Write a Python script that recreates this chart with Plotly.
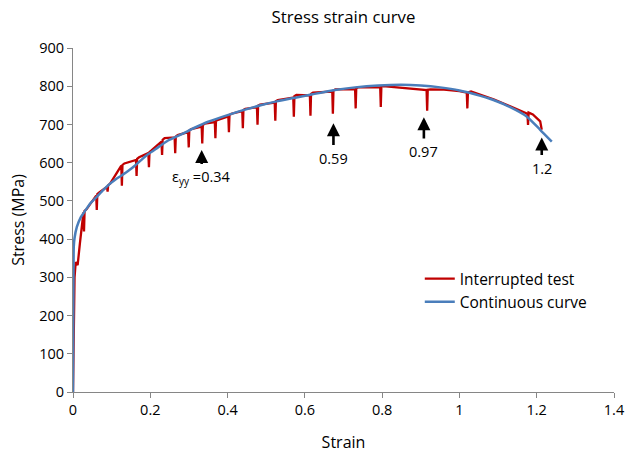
import plotly.graph_objects as go

# Continuous curve (blue)
cont_strain = [0.0, 0.001, 0.002, 0.004, 0.010, 0.020, 0.030, 0.045, 0.056, 0.075, 0.090, 0.110,
               0.125, 0.145, 0.160, 0.180, 0.194, 0.220, 0.246, 0.280, 0.316, 0.350, 0.402,
               0.450, 0.488, 0.530, 0.575, 0.620, 0.678, 0.730, 0.790, 0.850, 0.900, 0.950,
               1.000, 1.040, 1.088, 1.130, 1.174, 1.209, 1.239]
cont_stress = [0, 250, 380, 403, 432, 457, 472, 494, 505, 525, 540, 556,
               566, 580, 592, 610, 622, 640, 658, 674, 692, 707, 725,
               740, 751, 761, 770, 779, 790, 797, 802, 804, 802, 797,
               789, 779, 764, 746, 721, 686, 655]

# Interrupted test (red), including unloading dips
int_strain = [0.0, 0.002, 0.004, 0.007, 0.012, 0.018, 0.024,
              0.027, 0.0285, 0.030, 0.035,
              0.060, 0.0615, 0.063, 0.068,
              0.088, 0.0895, 0.091, 0.096,
              0.125, 0.1265, 0.128, 0.133,
              0.163, 0.1645, 0.166, 0.171,
              0.195, 0.1965, 0.198, 0.203,
              0.229, 0.2305, 0.232, 0.237,
              0.263, 0.2645, 0.266, 0.271,
              0.298, 0.2995, 0.301, 0.306,
              0.333, 0.3345, 0.336, 0.341,
              0.367, 0.3685, 0.370, 0.375,
              0.402, 0.4035, 0.405, 0.410,
              0.438, 0.4395, 0.441, 0.446,
              0.476, 0.4775, 0.479, 0.484,
              0.522, 0.5235, 0.525, 0.530,
              0.570, 0.5715, 0.573, 0.578,
              0.613, 0.6145, 0.616, 0.621,
              0.671, 0.6725, 0.674, 0.679,
              0.730, 0.7315, 0.733, 0.738,
              0.795, 0.7965, 0.798, 0.803, 0.850, 0.900,
              0.915, 0.9165, 0.918, 0.925, 0.960, 1.000,
              1.019, 1.0205, 1.022, 1.030, 1.060, 1.090, 1.130, 1.172,
              1.176, 1.1775, 1.179, 1.190, 1.209, 1.213]
int_stress = [0, 200, 300, 340, 332, 390, 445,
              470, 420, 474, 478,
              514, 476, 518, 522,
              537, 524, 541, 545,
              592, 540, 594, 598,
              607, 565, 610, 614,
              625, 588, 628, 632,
              655, 620, 660, 664,
              666, 625, 668, 672,
              680, 640, 684, 688,
              694, 650, 698, 702,
              706, 664, 709, 712,
              721, 680, 725, 728,
              735, 690, 738, 741,
              745, 699, 749, 752,
              757, 710, 761, 764,
              770, 720, 774, 777,
              776, 723, 780, 783,
              786, 728, 789, 792,
              792, 742, 795, 797,
              797, 746, 799, 800, 796, 791,
              790, 736, 791, 792, 791, 787,
              783, 742, 784, 786, 776, 765, 748, 730,
              728, 699, 731, 726, 708, 686]

# Arrow annotations (label sits below the arrow tail)
arrow_x = [0.333, 0.674, 0.908, 1.213]
arrow_head_y = [633, 703, 719, 666]
label_y = [560, 612, 629, 586]
label_text = ["ε<sub>yy</sub> =0.34", "0.59", "0.97", "1.2"]

x_ticks = [0, 0.2, 0.4, 0.6, 0.8, 1.0, 1.2, 1.4]
x_tick_labels = ["0", "0.2", "0.4", "0.6", "0.8", "1", "1.2", "1.4"]
y_ticks = [0, 100, 200, 300, 400, 500, 600, 700, 800, 900]

FONT = "Open Sans, sans-serif"

fig = go.Figure()
fig.add_trace(go.Scatter(x=int_strain, y=int_stress, mode="lines", name="Interrupted test",
                         line=dict(color="#C00000", width=2.3)))
fig.add_trace(go.Scatter(x=cont_strain, y=cont_stress, mode="lines", name="Continuous curve",
                         line=dict(color="#4A7EBB", width=2.5, shape="spline", smoothing=0.6)))

annotations = []
for x, hy, ly, t in zip(arrow_x, arrow_head_y, label_y, label_text):
    annotations.append(dict(x=x, y=hy, ax=x, ay=ly, xref="x", yref="y", axref="x", ayref="y",
                            showarrow=True, arrowhead=2, arrowsize=1.0, arrowwidth=2.6,
                            arrowcolor="black", startstandoff=2, text=t,
                            font=dict(size=14.5, color="black", family=FONT)))

fig.update_layout(
    width=627, height=453,
    margin=dict(l=73, r=13, t=48, b=61),
    paper_bgcolor="white", plot_bgcolor="white",
    title=dict(text="Stress strain curve", x=0.5, xref="paper", xanchor="center",
               y=1 - 17.5 / 453, yref="container", yanchor="middle",
               font=dict(size=16.8, color="black", family=FONT)),
    font=dict(family=FONT, color="black", size=14),
    xaxis=dict(range=[0, 1.4], tickvals=x_ticks, ticktext=x_tick_labels, automargin=False,
               showgrid=False, zeroline=False, showline=True, linecolor="#868686", linewidth=1,
               ticks="outside", ticklen=5, tickcolor="#868686", tickfont=dict(size=14.5),
               title=dict(text="Strain", font=dict(size=16), standoff=18)),
    yaxis=dict(range=[0, 900], tickvals=y_ticks, automargin=False,
               showgrid=False, zeroline=False, showline=True, linecolor="#868686", linewidth=1,
               ticks="outside", ticklen=5, tickcolor="#868686", tickfont=dict(size=14.5),
               title=dict(text="Stress (MPa)", font=dict(size=16), standoff=10)),
    legend=dict(x=0.641, y=0.378, xanchor="left", yanchor="top", bgcolor="rgba(0,0,0,0)",
                font=dict(size=15.5), tracegroupgap=0),
    annotations=annotations,
    showlegend=True,
)

# remove the browser's default body margin so the figure fills the window exactly
fig.write_html("out.html", config={"displayModeBar": False},
               post_script="document.body.style.margin='0';document.body.style.overflow='hidden';")
